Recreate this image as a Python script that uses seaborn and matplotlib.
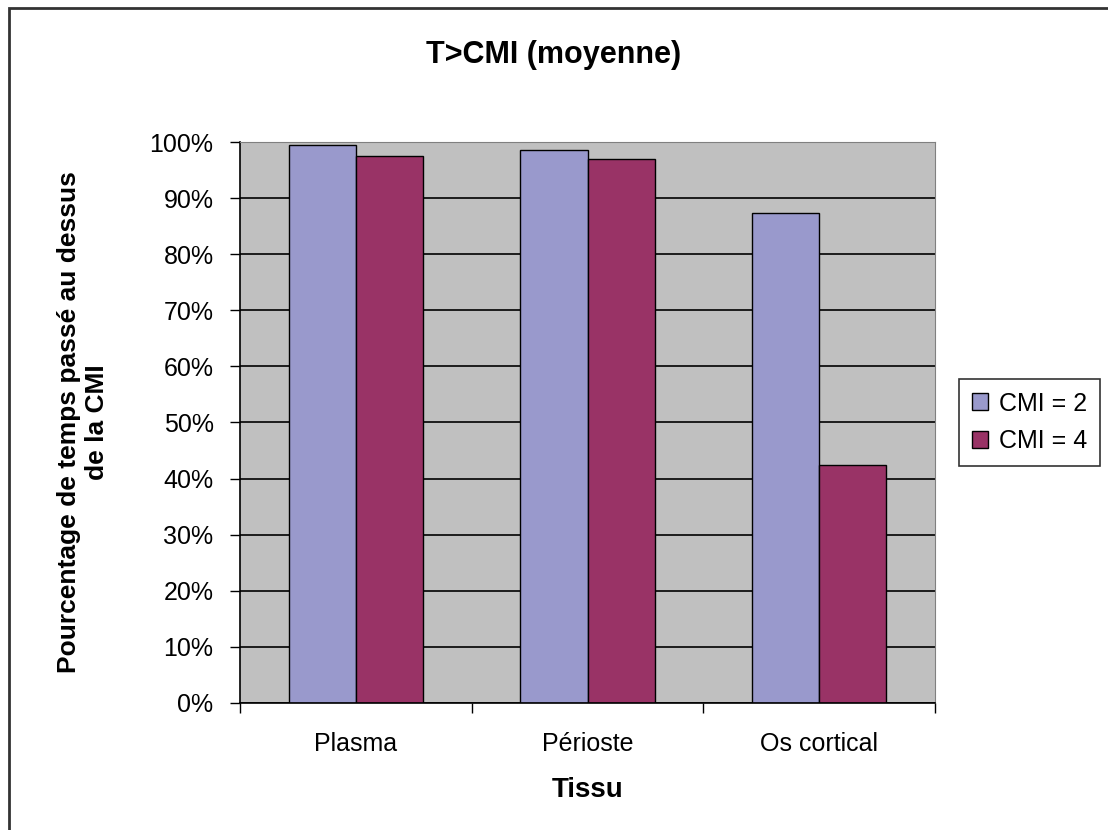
import pandas as pd
import matplotlib
matplotlib.use("Agg")
import matplotlib.pyplot as plt
import seaborn as sns
from matplotlib.patches import Rectangle
from matplotlib.ticker import PercentFormatter

# ==========================================
# DATA
# ==========================================

tissus = ["Plasma", "Périoste", "Os cortical"]
cmi2 = [99.5, 98.6, 87.4]
cmi4 = [97.6, 97.1, 42.4]
series = ["CMI = 2", "CMI = 4"]
couleurs = ["#9999CC", "#993366"]

data = pd.DataFrame({
    "Tissu": tissus * 2,
    "valeur": cmi2 + cmi4,
    "serie": [series[0]] * 3 + [series[1]] * 3,
})

# ==========================================
# STYLE
# ==========================================

sns.set_style("white")
plt.rcParams["font.family"] = ["Liberation Sans", "DejaVu Sans"]
plt.rcParams["text.color"] = "black"

fig = plt.figure(figsize=(11.08, 8.3), dpi=100)
ax = fig.add_axes([0.2166, 0.1534, 0.6273, 0.6752])

# outer frame (Excel chart area)
fig.patches.append(Rectangle((9 / 1108, -0.05), 1.2, 1 - 8 / 830 + 0.05,
                             transform=fig.transFigure, fill=False,
                             edgecolor="#333333", linewidth=2, zorder=0))

ax.set_facecolor("#C0C0C0")
ax.set_axisbelow(True)
ax.yaxis.grid(True, color="black", linewidth=1.2)

# ==========================================
# BARS
# ==========================================

sns.barplot(data=data, x="Tissu", y="valeur", hue="serie",
            palette=couleurs, width=0.58, gap=0, saturation=1,
            edgecolor="black", linewidth=1, ax=ax)

ax.set_xlim(-0.5, 2.5)
ax.set_ylim(0, 100)
ax.set_yticks(range(0, 101, 10))
ax.yaxis.set_major_formatter(PercentFormatter(decimals=0))

ax.set_xticks([-0.5, 0.5, 1.5, 2.5], minor=True)
ax.tick_params(axis="x", which="major", length=0, pad=21, labelsize=18,
               labelcolor="black")
ax.tick_params(axis="x", which="minor", length=7, width=1, direction="out",
               color="black", bottom=True)
ax.tick_params(axis="y", length=7, width=1, direction="out", color="black",
               left=True, pad=12, labelsize=18, labelcolor="black")

for side in ["left", "bottom"]:
    ax.spines[side].set_color("black")
    ax.spines[side].set_linewidth(1.2)
ax.spines["top"].set_color("#808080")
ax.spines["right"].set_color("#808080")

ax.set_xlabel("Tissu", fontsize=20, fontweight="bold", color="black")
ax.xaxis.label.set_va("center")
ax.xaxis.set_label_coords(0.5, -0.156)

ax.set_ylabel("Pourcentage de temps passé au dessus\nde la CMI",
              fontsize=19, fontweight="bold", color="black")
ax.yaxis.label.set_va("center")
ax.yaxis.set_label_coords(-0.226, 0.5)

fig.text(0.5, 0.934, "T>CMI (moyenne)", ha="center", va="center",
         fontsize=22, fontweight="bold", color="black")

leg = ax.legend(loc="center left", bbox_to_anchor=(1.0345, 0.5),
                fontsize=18, frameon=True, fancybox=False,
                handlelength=0.65, handleheight=0.65, handletextpad=0.45,
                labelspacing=0.55, borderpad=0.5, borderaxespad=0, title=None)
leg.get_frame().set_edgecolor("black")
leg.get_frame().set_linewidth(1.2)

fig.savefig("out.png", dpi=100, facecolor="white")
